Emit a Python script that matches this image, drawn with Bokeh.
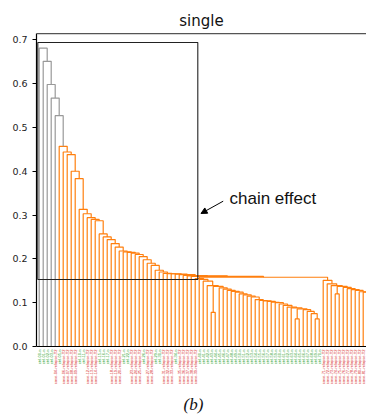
import math
from bokeh.plotting import figure
from bokeh.models import (Range1d, LinearAxis, FixedTicker, Span, Label, Arrow,
                          NormalHead, BoxAnnotation, PrintfTickFormatter, ColumnDataSource)
from bokeh.embed import file_html
from bokeh.resources import INLINE
from bokeh.core.properties import value

# ---------------- data ----------------
# leaves 0-4: gray chain, each leaf joins the rest at this height
gray_heights = [0.681, 0.651, 0.598, 0.567, 0.527]
# leaves 5-38: orange chain, each leaf joins the rest at this height
left_heights = [0.457, 0.444, 0.438, 0.400, 0.383, 0.313, 0.303, 0.294, 0.290, 0.287,
                0.257, 0.250, 0.244, 0.235, 0.227, 0.218, 0.216, 0.215, 0.213, 0.210,
                0.205, 0.198, 0.190, 0.185, 0.174, 0.170, 0.167, 0.166, 0.166, 0.165,
                0.164, 0.162, 0.161, 0.160]
# merge of the middle chain with the right chain
junction_height = 0.158
# middle chain (leaves 39-70); a non-zero pair height means two leaves merged first
middle_heights = [0.155, 0.153, 0.149, 0.139, 0.137, 0.134, 0.131, 0.128, 0.126, 0.124,
                  0.120, 0.118, 0.115, 0.113, 0.107, 0.105, 0.104, 0.103, 0.101, 0.100,
                  0.097, 0.094, 0.090, 0.088, 0.086, 0.084, 0.080, 0.075]
middle_pairs = [0, 0, 0, 0, 0.078, 0, 0, 0, 0, 0,
                0, 0, 0, 0, 0, 0, 0, 0, 0, 0,
                0, 0, 0, 0, 0.063, 0, 0, 0]
middle_tail = 0.063
# right chain (leaves 71-86)
red_heights = [0.151, 0.143, 0.139, 0.137, 0.135, 0.132, 0.130, 0.128, 0.125, 0.124,
               0.122, 0.120, 0.118]
red_pairs = [0, 0, 0, 0.120, 0, 0, 0, 0, 0, 0, 0, 0, 0]
red_tail = 0.110
color_threshold = 0.476

leaf_classes = ("GGGGRGRRRRGGRRRGGGRRRGGRRRGRRGGRRRGRRRRR"
                "GGGGGGGGGGGGGGGGGGGGGGGGGGGGGGG"
                "RRRRRRRRRRRRRRRR")
class_colors = {"G": "#2ca02c", "R": "#d62728"}
class_names = {"G": "ctrl-{:02d}-n", "R": "case-{:02d}-relapse-T2"}

y_ticks = [0.0, 0.1, 0.2, 0.3, 0.4, 0.5, 0.6, 0.7]

# annotation positions (data units)
box_left, box_right, box_bottom, box_top = 1.5, 401.5, 0.1529, 0.6939
arrow_start = (465.0, 0.3317)
arrow_end = (409.5, 0.3036)
note_pos = (480.75, 0.3378)
title_pos = (410.75, 0.744)
caption_pos = (390.75, -0.1324)
axis_top = 0.7144
x_lo, x_hi = -1.75, 823.25

# ---------------- tree construction ----------------
def build_chain(start, heights, pairs, tail_h):
    items = []
    leaf = start
    for h, ph in zip(heights, pairs):
        if ph:
            items.append(((leaf, leaf + 1, ph), h))
            leaf += 2
        else:
            items.append((leaf, h))
            leaf += 1
    node = (leaf, leaf + 1, tail_h)
    nxt = leaf + 2
    for item, h in reversed(items):
        node = (item, node, h)
    return node, nxt

middle_node, nl = build_chain(39, middle_heights, middle_pairs, middle_tail)
red_node, n_leaves = build_chain(nl, red_heights, red_pairs, red_tail)
root = (middle_node, red_node, junction_height)
chain_heights = gray_heights + left_heights
for i in reversed(range(len(chain_heights))):
    root = (i, root, chain_heights[i])

def leaf_x(i):
    return 5 + 10 * i

xs, ys, cols = [], [], []
def layout(node):
    if isinstance(node, int):
        return leaf_x(node), 0.0
    l, r, h = node
    xl, hl = layout(l)
    xr, hr = layout(r)
    xs.append([xl, xl, xr, xr])
    ys.append([hl, h, h, hr])
    cols.append("#999999" if h > color_threshold else "#ff7f0e")
    return (xl + xr) / 2, h

layout(root)

# ---------------- figure ----------------
p = figure(width=366, height=417, output_backend="svg", toolbar_location=None,
           x_range=Range1d(x_lo, x_hi), y_range=Range1d(-0.1621, 0.7898),
           x_axis_location=None, y_axis_location=None,
           min_border_left=36, min_border_right=0, min_border_top=0, min_border_bottom=0)
p.grid.visible = False
p.outline_line_color = None
p.background_fill_color = "white"
p.border_fill_color = "white"

p.multi_line(xs=xs, ys=ys, line_color=cols, line_width=1.2)

yaxis = LinearAxis(ticker=FixedTicker(ticks=y_ticks), bounds=(0, axis_top),
                   formatter=PrintfTickFormatter(format="%.1f"))
yaxis.axis_line_color = "black"
yaxis.axis_line_width = 1.2
yaxis.major_tick_out = 4
yaxis.major_tick_in = 0
yaxis.minor_tick_line_color = None
yaxis.major_label_standoff = 5
yaxis.major_label_text_font = "DejaVu Sans"
yaxis.major_label_text_font_size = "9.5px"
yaxis.major_label_text_color = "#222222"
p.add_layout(yaxis, "left")

p.add_layout(Span(location=0, dimension="width", line_color="black", line_width=1.2))
p.add_layout(Span(location=axis_top, dimension="width", line_color="#555555", line_width=1.2))

# leaf labels (only those that fit inside the visible width)
shown = [i for i in range(n_leaves) if leaf_x(i) + 6 < x_hi]
lab_x = [leaf_x(i) for i in shown]
lab_t = [class_names[leaf_classes[i]].format(i) for i in shown]
lab_c = [class_colors[leaf_classes[i]] for i in shown]
src = ColumnDataSource(dict(x=lab_x, y=[-0.0068] * len(shown), t=lab_t, c=lab_c))
p.text(x="x", y="y", text="t", source=src, angle=math.pi / 2, text_align="right",
       text_baseline="middle", text_color="c", text_font=value("Liberation Sans"),
       text_font_size=value("4px"))

# chain effect box and arrow
p.add_layout(BoxAnnotation(left=box_left, right=box_right, bottom=box_bottom, top=box_top,
                           fill_alpha=0, line_alpha=1, line_color="#222222", line_width=1.1))
p.add_layout(Arrow(end=NormalHead(size=6, fill_color="black", line_color="black"),
                   x_start=arrow_start[0], y_start=arrow_start[1],
                   x_end=arrow_end[0], y_end=arrow_end[1],
                   line_color="black", line_width=1))
p.add_layout(Label(x=note_pos[0], y=note_pos[1], text="chain effect",
                   text_font="Liberation Sans", text_font_size="17px",
                   text_baseline="middle", text_color="#111111"))
p.add_layout(Label(x=title_pos[0], y=title_pos[1], text="single", text_align="center",
                   text_baseline="middle", text_font="DejaVu Sans", text_font_size="15px",
                   text_color="#111111"))
p.add_layout(Label(x=caption_pos[0], y=caption_pos[1], text="(b)", text_align="center",
                   text_baseline="middle", text_font="Liberation Serif",
                   text_font_style="italic", text_font_size="17px", text_color="#111111"))

open("out.html", "w").write(file_html(p, INLINE))
